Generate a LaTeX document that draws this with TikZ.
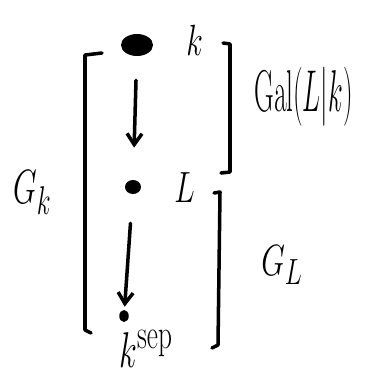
\documentclass[tikz,border=0pt]{standalone}
\usepackage{amsmath,amssymb}
\usepackage{tikz}
\usetikzlibrary{arrows.meta,shapes.geometric}
\newcommand{\nar}[1]{\scalebox{0.7}[1]{#1}}

\begin{document}
\begin{tikzpicture}[x=0.02cm, y=-0.02cm,
  dot/.style={fill, ellipse, inner sep=0pt},
  lab/.style={font=\fontsize{30}{32}\selectfont, inner sep=0pt, anchor=base west},
  ar/.style={-{Straight Barb[length=2.2mm,width=3mm]}, line width=2pt, line cap=round},
  brk/.style={line width=2pt, line join=round, line cap=round}]
\useasboundingbox (0,0) rectangle (381,380);
% the three fields
\node[dot, minimum width=0.64cm, minimum height=0.44cm] (k) at (137,45) {};
\node[dot, minimum width=0.32cm, minimum height=0.28cm] (L) at (133,187) {};
\node[dot, minimum width=0.19cm, minimum height=0.24cm] (ks) at (124,316) {};
\node[lab] (klab)  at (186,55)  {\nar{$k$}};
\node[lab] (Llab)  at (174,202) {\nar{$L$}};
\node[lab] (kslab) at (119,367) {\scalebox{0.75}[1.15]{$k^{\mathrm{sep}}$}};
% inclusions
\draw[ar, shorten <=0.48cm, shorten >=0.64cm] (k) -- (L);
\draw[ar, shorten <=0.58cm, shorten >=0.06cm] (L) -- (ks);
% brackets
\draw[brk] (102,53) -- (85,55) -- (85,330) -- (91,333);
\draw[brk] (223,43) -- (230,44) -- (230,172) -- (221,173);
\draw[brk] (214,193) -- (220,192) -- (218,345) -- (212,348);
% groups
\node[lab] (gal) at (254,111) {\scalebox{0.62}[1.35]{$\mathrm{Gal}(L|k)$}};
\node[lab] (Gk)  at (13,203)  {\scalebox{0.7}[1.1]{$G_k$}};
\node[lab] (GL)  at (261,275) {\nar{$G_L$}};
\end{tikzpicture}
\end{document}
